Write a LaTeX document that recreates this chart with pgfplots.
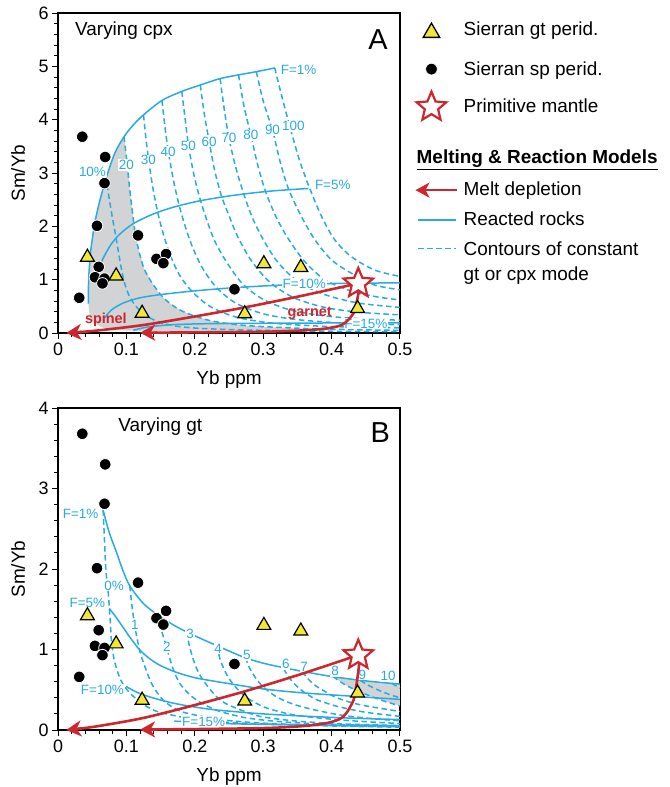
\documentclass[border=0pt]{standalone}
\usepackage{fontspec}
\setmainfont{Liberation Sans}
\usepackage{pgfplots}
\pgfplotsset{compat=1.18}
\usetikzlibrary{arrows.meta}
\definecolor{cy}{RGB}{41,171,226}
\definecolor{rd}{RGB}{205,38,44}
\definecolor{yl}{RGB}{240,232,50}
\definecolor{gr}{RGB}{209,211,212}
\pgfdeclareplotmark{pstar}{%
 \pgfpathmoveto{\pgfpointpolar{90}{\pgfplotmarksize}}%
 \pgfpathlineto{\pgfpointpolar{126}{0.45\pgfplotmarksize}}%
 \pgfpathlineto{\pgfpointpolar{162}{\pgfplotmarksize}}%
 \pgfpathlineto{\pgfpointpolar{198}{0.45\pgfplotmarksize}}%
 \pgfpathlineto{\pgfpointpolar{234}{\pgfplotmarksize}}%
 \pgfpathlineto{\pgfpointpolar{270}{0.45\pgfplotmarksize}}%
 \pgfpathlineto{\pgfpointpolar{306}{\pgfplotmarksize}}%
 \pgfpathlineto{\pgfpointpolar{342}{0.45\pgfplotmarksize}}%
 \pgfpathlineto{\pgfpointpolar{18}{\pgfplotmarksize}}%
 \pgfpathlineto{\pgfpointpolar{54}{0.45\pgfplotmarksize}}%
 \pgfpathclose\pgfusepathqfillstroke}
\pgfplotsset{
 myaxis/.style={
  scale only axis, width=342bp,
  xmin=0, xmax=0.5,
  xtick={0,0.1,0.2,0.3,0.4,0.5},
  xticklabels={0,0.1,0.2,0.3,0.4,0.5},
  minor x tick num=4, minor y tick num=4,
  tick align=outside, xtick pos=lower, ytick pos=left,
  major tick length=6bp, minor tick length=3.5bp,
  tick style={black, line width=1bp},
  axis line style={line width=1.5bp},
  tick label style={font=\fontsize{18}{20}\selectfont},
  /pgf/number format/assume math mode=true,
  label style={font=\fontsize{19}{22}\selectfont},
  xlabel={Yb ppm}, ylabel={Sm/Yb},
  clip=false,
  xlabel style={at={(axis description cs:0.5,-0.146)}, anchor=center},
  ylabel style={at={(axis description cs:-0.117,0.5)}, anchor=center},
 },
 solidc/.style={cy, line width=1.5bp, smooth, forget plot},
 dashc/.style={cy, line width=1.5bp, dash pattern=on 5.5bp off 3.5bp, smooth, forget plot},
 redln/.style={rd, line width=2.6bp, smooth, tension=0.5, forget plot},
 redtip/.style={rd, line width=2.6bp, forget plot, -{Stealth[length=15bp,width=16bp,inset=4.5bp]}},
 tri/.style={only marks, mark=triangle*, mark size=8bp, mark options={fill=yl, draw=black, line width=1.2bp}, forget plot},
 circ/.style={only marks, mark=*, mark size=5.8bp, mark options={fill=black, draw=white, line width=0.8bp}, forget plot},
 pm/.style={only marks, mark=pstar, mark size=15.5bp, mark options={fill=white, draw=rd, line width=2.2bp}, forget plot},
 markleg/.style={legend image code/.code={\path (0bp,0bp) (42bp,0bp); \draw[##1] plot coordinates {(16bp,0bp)};}},
 arrleg/.style={legend image code/.code={\draw[##1] (42bp,0bp) -- (0bp,0bp);}},
 lineleg/.style={legend image code/.code={\path (0bp,0bp) (42bp,0bp); \draw[##1] (3bp,0bp) -- (41bp,0bp);}},
}
\newcommand{\lab}[3]{\node[text=cy, fill=white, inner sep=0.8bp, font=\fontsize{13.5}{15}\selectfont] at (axis cs:#1,#2) {#3};}
\begin{document}
\begin{tikzpicture}
% ================= PANEL A =================
\begin{axis}[myaxis, height=320bp, ymin=0, ymax=6, ytick={0,1,2,3,4,5,6},
 legend style={at={(1.041,0.994)}, anchor=north west, draw=none, fill=none, inner sep=0pt, row sep=0pt,
  font=\fontsize{19}{22}\selectfont, nodes={inner sep=0pt, text depth=},
  /tikz/every odd column/.style={column sep=5bp}},
 legend cell align=left]
\addlegendimage{only marks, mark=triangle*, mark size=9.5bp, mark options={fill=yl, draw=black, line width=1.3bp}, markleg}
\addlegendentry{\rule[-14.5bp]{0pt}{35bp}Sierran gt perid.}
\addlegendimage{only marks, mark=*, mark size=5.8bp, mark options={fill=black, draw=white, line width=0.6bp}, markleg}
\addlegendentry{\rule[-12.5bp]{0pt}{38bp}Sierran sp perid.}
\addlegendimage{only marks, mark=pstar, mark size=15.5bp, mark options={fill=white, draw=rd, line width=2.2bp}, markleg}
\addlegendentry{\rule[-13.5bp]{0pt}{38bp}Primitive mantle}
\addlegendimage{empty legend}
\addlegendentry{\rule[-11.5bp]{0pt}{49bp}\hspace*{-47bp}\underline{\textbf{Melting \& Reaction Models}}}
\addlegendimage{rd, line width=2.5bp, -{Stealth[length=14bp,width=15bp,inset=4bp]}, arrleg}
\addlegendentry{\rule[-9.5bp]{0pt}{30bp}Melt depletion}
\addlegendimage{cy, line width=1.5bp, lineleg}
\addlegendentry{\rule[-9.5bp]{0pt}{30bp}Reacted rocks}
\addlegendimage{cy, line width=1.5bp, dash pattern=on 5.5bp off 3.5bp, lineleg}
\addlegendentry{\rule[-6.5bp]{0pt}{27bp}Contours of constant}
\addlegendimage{empty legend}
\addlegendentry{\rule[-4.5bp]{0pt}{23bp}gt or cpx mode}

% gray field
\addplot[fill=gr, draw=none, forget plot] coordinates {
 (0.0965,3.68) (0.1,3.3) (0.104,2.8) (0.108,2.35) (0.112,1.95) (0.118,1.55) (0.126,1.2)
 (0.138,0.93) (0.146,0.78) (0.155,0.65) (0.166,0.53) (0.18,0.42) (0.2,0.32) (0.22,0.24) (0.245,0.185)
 (0.27,0.145) (0.31,0.11) (0.35,0.09) (0.42,0.06) (0.3,0.03) (0.15,0.03) (0.09,0.05) (0.065,0.1)
 (0.052,0.2) (0.046,0.35) (0.0443,0.55) (0.0443,0.75) (0.0452,1.1) (0.0475,1.5) (0.0507,1.81)
 (0.054,2.08) (0.059,2.37) (0.064,2.62) (0.071,2.93) (0.077,3.17) (0.083,3.37) (0.09,3.55)} -- cycle;

% reacted rocks (constant F)
\addplot[solidc] coordinates {(0.0445,0.55) (0.0443,0.75) (0.0452,1.1) (0.0475,1.5) (0.0507,1.81) (0.054,2.08) (0.059,2.37) (0.064,2.62) (0.071,2.93) (0.083,3.37) (0.0965,3.68) (0.11,3.9) (0.125,4.09) (0.152,4.36) (0.181,4.53) (0.208,4.65) (0.237,4.77) (0.264,4.84) (0.29,4.9) (0.317,4.97)};
\addplot[solidc] coordinates {(0.058,1.15) (0.066,1.4) (0.077,1.65) (0.09,1.85) (0.11,2.05) (0.139,2.23) (0.169,2.36) (0.208,2.48) (0.256,2.58) (0.31,2.66) (0.366,2.71)};
\addplot[solidc] coordinates {(0.068,0.28) (0.078,0.43) (0.095,0.56) (0.12,0.66) (0.15,0.72) (0.2,0.79) (0.258,0.85) (0.33,0.9) (0.41,0.93) (0.5,0.94)};
\addplot[solidc] coordinates {(0.11,0.05) (0.13,0.11) (0.16,0.15) (0.2,0.17) (0.26,0.18) (0.35,0.185) (0.43,0.19) (0.5,0.19)};

% contours of constant cpx mode
\addplot[dashc] coordinates {(0.070,2.95) (0.0745,2.55) (0.079,2.2) (0.084,1.85) (0.088,1.55) (0.092,1.25) (0.097,0.95) (0.104,0.7) (0.114,0.5) (0.128,0.33) (0.147,0.21) (0.172,0.13) (0.21,0.085) (0.28,0.055) (0.38,0.035) (0.5,0.025)};
\addplot[dashc] coordinates {(0.0965,3.68) (0.1,3.3) (0.104,2.8) (0.108,2.35) (0.112,1.95) (0.118,1.55) (0.126,1.2) (0.138,0.93) (0.155,0.65) (0.18,0.42) (0.22,0.24) (0.27,0.145) (0.35,0.09) (0.42,0.065) (0.5,0.05)};
\addplot[dashc] coordinates {(0.125,4.09) (0.129,3.6) (0.133,3.2) (0.139,2.7) (0.146,2.25) (0.153,1.9) (0.163,1.5) (0.177,1.1) (0.196,0.78) (0.222,0.5) (0.26,0.3) (0.31,0.19) (0.38,0.13) (0.44,0.11) (0.5,0.095)};
\addplot[dashc] coordinates {(0.152,4.36) (0.157,3.8) (0.162,3.35) (0.169,2.85) (0.177,2.4) (0.186,2.0) (0.197,1.6) (0.212,1.2) (0.232,0.85) (0.26,0.56) (0.3,0.36) (0.35,0.25) (0.42,0.185) (0.5,0.155)};
\addplot[dashc] coordinates {(0.181,4.53) (0.186,4.0) (0.191,3.5) (0.199,2.95) (0.208,2.5) (0.218,2.1) (0.23,1.7) (0.248,1.3) (0.27,0.92) (0.3,0.63) (0.34,0.43) (0.39,0.32) (0.44,0.27) (0.5,0.24)};
\addplot[dashc] coordinates {(0.208,4.65) (0.214,4.1) (0.221,3.59) (0.229,3.05) (0.239,2.57) (0.25,2.2) (0.263,1.8) (0.283,1.35) (0.31,0.95) (0.345,0.66) (0.39,0.48) (0.44,0.39) (0.5,0.34)};
\addplot[dashc] coordinates {(0.237,4.77) (0.243,4.2) (0.25,3.65) (0.26,3.1) (0.271,2.63) (0.283,2.2) (0.298,1.8) (0.32,1.35) (0.35,0.97) (0.39,0.72) (0.44,0.56) (0.5,0.48)};
\addplot[dashc] coordinates {(0.264,4.84) (0.272,4.25) (0.282,3.71) (0.292,3.15) (0.303,2.67) (0.318,2.2) (0.335,1.8) (0.36,1.35) (0.39,1.0) (0.43,0.78) (0.47,0.67) (0.5,0.62)};
\addplot[dashc] coordinates {(0.29,4.9) (0.3,4.35) (0.3136,3.8) (0.325,3.2) (0.337,2.7) (0.356,2.18) (0.376,1.74) (0.4,1.37) (0.429,1.12) (0.463,0.9) (0.5,0.81)};
\addplot[dashc] coordinates {(0.317,4.97) (0.322,4.7) (0.33,4.3) (0.339,3.87) (0.347,3.5) (0.354,3.2) (0.361,2.95) (0.368,2.71) (0.3855,2.18) (0.405,1.74) (0.429,1.43) (0.463,1.18) (0.5,1.06)};

% labels
\lab{0.0504}{3.03}{10\%}
\lab{0.1}{3.15}{20}
\lab{0.132}{3.24}{30}
\lab{0.161}{3.40}{40}
\lab{0.1905}{3.50}{50}
\lab{0.221}{3.59}{60}
\lab{0.25}{3.65}{70}
\lab{0.282}{3.71}{80}
\lab{0.3136}{3.80}{90}
\lab{0.344}{3.88}{100}
\node[text=cy, anchor=west, inner sep=1bp, font=\fontsize{13.5}{15}\selectfont] at (axis cs:0.324,4.93) {F=1\%};
\node[text=cy, anchor=west, inner sep=1bp, font=\fontsize{13.5}{15}\selectfont] at (axis cs:0.374,2.78) {F=5\%};
\lab{0.36}{0.92}{F=10\%}
\lab{0.45}{0.18}{F=15\%}

% melt depletion
\addplot[redln] coordinates {(0.43,0.905) (0.35,0.68) (0.273,0.48) (0.2,0.31) (0.125,0.15) (0.06,0.05) (0.03,0.015)};
\addplot[redtip] coordinates {(0.035,0.02) (0.012,0.0)};
\addplot[redln] coordinates {(0.441,0.86) (0.437,0.6) (0.432,0.37) (0.417,0.165) (0.395,0.09) (0.36,0.05) (0.305,0.025) (0.208,0.012) (0.14,0.007)};
\addplot[redtip] coordinates {(0.145,0.007) (0.12,0.005)};
\node[text=rd, font=\bfseries\fontsize{14.5}{16}\selectfont] at (axis cs:0.07,0.24) {spinel};
\node[text=rd, font=\bfseries\fontsize{14.5}{16}\selectfont] at (axis cs:0.368,0.36) {garnet};

% samples
\addplot[circ] coordinates {(0.0355,3.68) (0.069,3.30) (0.068,2.81) (0.057,2.01) (0.117,1.83) (0.144,1.39) (0.158,1.48) (0.154,1.31) (0.0595,1.24) (0.054,1.045) (0.068,1.02) (0.065,0.93) (0.031,0.66) (0.258,0.82)};
\addplot[tri] coordinates {(0.043,1.42) (0.085,1.07) (0.123,0.37) (0.273,0.36) (0.301,1.30) (0.355,1.23) (0.438,0.46)};
\addplot[pm] coordinates {(0.439,0.93)};

\node[anchor=west, font=\fontsize{19}{22}\selectfont] at (axis cs:0.02,5.67) {Varying cpx};
\node[font=\fontsize{29}{32}\selectfont] at (axis cs:0.468,5.5) {A};
\end{axis}

% ================= PANEL B =================
\begin{axis}[myaxis, at={(0,-397bp)}, height=322bp, ymin=0, ymax=4, ytick={0,1,2,3,4}]
\addplot[fill=gr, draw=none, forget plot] coordinates {(0.402,0.665) (0.45,0.61) (0.5,0.57) (0.5,0.3) (0.48,0.35) (0.46,0.41) (0.44,0.48) (0.42,0.56)} -- cycle;

\addplot[solidc] coordinates {(0.066,2.73) (0.075,2.45) (0.085,2.22) (0.095,1.98) (0.105,1.79) (0.125,1.57) (0.149,1.41) (0.174,1.28) (0.2,1.17) (0.237,1.03) (0.27,0.91) (0.3,0.83) (0.35,0.74) (0.4,0.665) (0.45,0.61) (0.5,0.57)};
\addplot[solidc] coordinates {(0.075,1.51) (0.085,1.4) (0.0955,1.27) (0.107,1.13) (0.12,0.99) (0.135,0.88) (0.15,0.8) (0.172,0.72) (0.2,0.65) (0.24,0.59) (0.3,0.51) (0.36,0.46) (0.43,0.42) (0.5,0.38)};
\addplot[solidc] coordinates {(0.0995,0.54) (0.115,0.47) (0.1345,0.41) (0.16,0.35) (0.183,0.31) (0.22,0.26) (0.256,0.23) (0.3,0.2) (0.354,0.175) (0.42,0.15) (0.5,0.13)};
\addplot[solidc] coordinates {(0.17,0.11) (0.245,0.08) (0.3,0.07) (0.4,0.06) (0.5,0.055)};

\addplot[dashc] coordinates {(0.066,2.73) (0.068,2.35) (0.07,1.99) (0.0735,1.7) (0.076,1.4) (0.0785,1.08) (0.082,0.88) (0.088,0.7) (0.095,0.57) (0.105,0.46) (0.117,0.37) (0.13,0.29) (0.145,0.23) (0.164,0.19) (0.208,0.12) (0.26,0.09) (0.3,0.075) (0.4,0.05) (0.5,0.035)};
\addplot[dashc] coordinates {(0.105,1.79) (0.108,1.55) (0.1125,1.28) (0.117,1.08) (0.122,0.91) (0.1345,0.62) (0.143,0.49) (0.154,0.37) (0.17,0.27) (0.188,0.21) (0.237,0.13) (0.3,0.085) (0.4,0.055) (0.5,0.04)};
\addplot[dashc] coordinates {(0.144,1.43) (0.149,1.3) (0.154,1.16) (0.159,1.02) (0.164,0.87) (0.17,0.72) (0.178,0.58) (0.19,0.46) (0.203,0.37) (0.22,0.29) (0.237,0.23) (0.276,0.15) (0.33,0.1) (0.4,0.07) (0.5,0.05)};
\addplot[dashc] coordinates {(0.188,1.22) (0.192,1.05) (0.198,0.87) (0.204,0.74) (0.212,0.62) (0.222,0.51) (0.232,0.41) (0.245,0.33) (0.261,0.27) (0.295,0.17) (0.35,0.11) (0.42,0.075) (0.5,0.055)};
\addplot[dashc] coordinates {(0.232,1.05) (0.237,0.88) (0.243,0.75) (0.25,0.64) (0.258,0.55) (0.268,0.46) (0.28,0.38) (0.295,0.31) (0.31,0.26) (0.35,0.18) (0.42,0.12) (0.5,0.08)};
\addplot[dashc] coordinates {(0.274,0.9) (0.28,0.77) (0.287,0.67) (0.295,0.58) (0.305,0.5) (0.318,0.42) (0.335,0.35) (0.36,0.28) (0.41,0.19) (0.46,0.14) (0.5,0.115)};
\addplot[dashc] coordinates {(0.33,0.76) (0.337,0.66) (0.345,0.58) (0.355,0.5) (0.367,0.43) (0.38,0.37) (0.41,0.29) (0.45,0.22) (0.5,0.17)};
\addplot[dashc] coordinates {(0.357,0.725) (0.365,0.64) (0.375,0.56) (0.39,0.48) (0.405,0.41) (0.425,0.35) (0.45,0.3) (0.5,0.23)};
\addplot[dashc] coordinates {(0.402,0.665) (0.42,0.56) (0.44,0.48) (0.46,0.41) (0.48,0.35) (0.5,0.3)};
\addplot[dashc] coordinates {(0.442,0.615) (0.455,0.55) (0.47,0.49) (0.485,0.44) (0.5,0.4)};
\addplot[dashc] coordinates {(0.488,0.58) (0.494,0.55) (0.5,0.52)};

\lab{0.082}{1.79}{0\%}
\lab{0.1125}{1.30}{1}
\lab{0.159}{1.03}{2}
\lab{0.193}{1.20}{3}
\lab{0.234}{1.01}{4}
\lab{0.276}{0.93}{5}
\lab{0.333}{0.82}{6}
\lab{0.36}{0.79}{7}
\lab{0.405}{0.73}{8}
\lab{0.445}{0.69}{9}
\lab{0.4825}{0.67}{10}
\lab{0.033}{2.68}{F=1\%}
\lab{0.043}{1.58}{F=5\%}
\lab{0.065}{0.50}{F=10\%}
\lab{0.213}{0.10}{F=15\%}

\addplot[redln] coordinates {(0.43,0.905) (0.35,0.68) (0.273,0.48) (0.2,0.31) (0.125,0.15) (0.06,0.05) (0.03,0.015)};
\addplot[redtip] coordinates {(0.035,0.02) (0.012,0.0)};
\addplot[redln] coordinates {(0.441,0.86) (0.437,0.6) (0.432,0.37) (0.417,0.165) (0.395,0.09) (0.36,0.05) (0.305,0.025) (0.208,0.012) (0.14,0.007)};
\addplot[redtip] coordinates {(0.145,0.007) (0.12,0.005)};

\addplot[circ] coordinates {(0.0355,3.68) (0.069,3.30) (0.068,2.81) (0.057,2.01) (0.117,1.83) (0.144,1.39) (0.158,1.48) (0.154,1.31) (0.0595,1.24) (0.054,1.045) (0.068,1.02) (0.065,0.93) (0.031,0.66) (0.258,0.82)};
\addplot[tri] coordinates {(0.043,1.42) (0.085,1.07) (0.123,0.37) (0.273,0.36) (0.301,1.30) (0.355,1.23) (0.438,0.46)};
\addplot[pm] coordinates {(0.439,0.93)};

\node[anchor=west, font=\fontsize{19}{22}\selectfont] at (axis cs:0.083,3.77) {Varying gt};
\node[font=\fontsize{29}{32}\selectfont] at (axis cs:0.471,3.70) {B};
\end{axis}
\pgfresetboundingbox
\path[use as bounding box] (-58bp,333bp) rectangle (612bp,-454bp);
\end{tikzpicture}
\end{document}
